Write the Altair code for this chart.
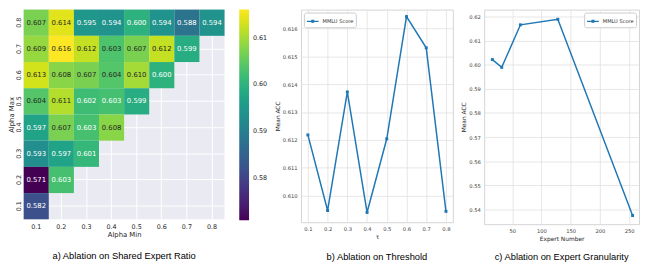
import altair as alt
import pandas as pd

# ---------------- data ----------------
alpha_labels = ["0.1", "0.2", "0.3", "0.4", "0.5", "0.6", "0.7", "0.8"]
row_08 = [0.607, 0.614, 0.595, 0.594, 0.600, 0.594, 0.588, 0.594]
row_07 = [0.609, 0.616, 0.612, 0.6034, 0.607, 0.612, 0.599]
row_06 = [0.613, 0.608, 0.607, 0.604, 0.610, 0.600]
row_05 = [0.604, 0.611, 0.602, 0.6027, 0.599]
row_04 = [0.597, 0.607, 0.6028, 0.608]
row_03 = [0.593, 0.597, 0.601]
row_02 = [0.571, 0.6028]
row_01 = [0.582]
heat_rows = {"0.8": row_08, "0.7": row_07, "0.6": row_06, "0.5": row_05,
             "0.4": row_04, "0.3": row_03, "0.2": row_02, "0.1": row_01}

tau = [0.1, 0.2, 0.3, 0.4, 0.5, 0.6, 0.7, 0.8]
tau_acc = [0.61218, 0.60947, 0.61372, 0.60940, 0.61204, 0.61642, 0.61530, 0.60944]

experts = [16, 32, 64, 128, 256]
expert_acc = [0.6021, 0.5989, 0.6165, 0.6188, 0.5375]

series_name = "MMLU Score"

heat_df = pd.DataFrame([
    {"amin": alpha_labels[i], "amax": amax, "value": v}
    for amax, vals in heat_rows.items() for i, v in enumerate(vals)
])
b_df = pd.DataFrame({"tau": tau, "acc": tau_acc, "series": series_name})
c_df = pd.DataFrame({"n": experts, "acc": expert_acc, "series": series_name})

FONT = "DejaVu Sans"
CAP_FONT = "Liberation Sans"
BLUE = "#1f77b4"
TXT = "#262626"

def caption(text, offset):
    return alt.TitleParams(text=text, orient="bottom", font=CAP_FONT, fontSize=9.5,
                           fontWeight="normal", color="black", anchor="middle",
                           frame="group", offset=offset)

# ---------------- a) heatmap ----------------
hx = alt.X("amin:O", scale=alt.Scale(domain=alpha_labels, paddingInner=0, paddingOuter=0),
           axis=alt.Axis(title="Alpha Min", labelAngle=0, domain=False, ticks=False,
                         grid=True, gridColor="white", gridWidth=1, zindex=0,
                         labelFont=FONT, labelFontSize=6.5, labelColor=TXT, labelPadding=4,
                         titleFont=FONT, titleFontSize=7, titleFontWeight="normal",
                         titleColor=TXT, titlePadding=1))
hy = alt.Y("amax:O", scale=alt.Scale(domain=alpha_labels[::-1], paddingInner=0, paddingOuter=0),
           axis=alt.Axis(title="Alpha Max", labelAngle=270, domain=False, ticks=False,
                         grid=True, gridColor="white", gridWidth=1, zindex=0,
                         labelFont=FONT, labelFontSize=6.5, labelColor=TXT, labelPadding=2,
                         titleFont=FONT, titleFontSize=7, titleFontWeight="normal",
                         titleColor=TXT, titlePadding=1))

rects = alt.Chart(heat_df).mark_rect().encode(
    x=hx, y=hy,
    color=alt.Color("value:Q",
                    scale=alt.Scale(scheme="viridis", domain=[0.571, 0.616]),
                    legend=alt.Legend(title=None, orient="right", direction="vertical",
                                      gradientLength=215, gradientThickness=10, offset=15,
                                      gradientStrokeWidth=0,
                                      values=[0.58, 0.59, 0.60, 0.61], format=".2f",
                                      labelExpr="datum.label + '\u00a0\u00a0'",
                                      labelFont=FONT, labelFontSize=6.5, labelColor=TXT,
                                      labelOffset=4)),
)
labels = alt.Chart(heat_df).mark_text(font=FONT, fontSize=7).encode(
    x=hx, y=hy,
    text=alt.Text("value:Q", format=".3f"),
    color=alt.condition("datum.value >= 0.603", alt.value(TXT), alt.value("white")),
)
heat = alt.layer(rects, labels).properties(
    width=205, height=214,
    view=alt.ViewBackground(fill="#EAEAF2", stroke=None),
    title=caption("a) Ablation on Shared Expert Ratio", 14),
)

# ---------------- shared line style ----------------
LEG_SYMBOL = "M-1,0L1,0M-0.13,-0.13L0.13,-0.13L0.13,0.13L-0.13,0.13Z"

def line_axis(title, values, fmt):
    return alt.Axis(title=title, values=values, format=fmt, domain=False, ticks=False,
                    grid=True, gridColor="#e0e0e0", gridWidth=0.8,
                    labelFont=FONT, labelFontSize=5.3, labelColor="#444444", labelPadding=4,
                    titleFont=FONT, titleFontSize=6, titleFontWeight="normal",
                    titleColor=TXT, titlePadding=2)

def legend(orient):
    return alt.Legend(title=None, orient=orient, symbolType=LEG_SYMBOL, symbolSize=144,
                      symbolStrokeWidth=1.5, symbolFillColor=BLUE, symbolStrokeColor=BLUE,
                      labelFont=FONT, labelFontSize=5.2, labelColor="#333333", labelOffset=3,
                      padding=2, offset=3, strokeColor="#cccccc", fillColor="white",
                      cornerRadius=2)

b = alt.Chart(b_df).mark_line(
    strokeWidth=1.5,
    point=alt.OverlayMarkDef(filled=True, size=9, shape="square"),
).encode(
    x=alt.X("tau:Q", scale=alt.Scale(domain=[0.065, 0.835], nice=False, zero=False),
            axis=line_axis("τ", tau, ".1f")),
    y=alt.Y("acc:Q", scale=alt.Scale(domain=[0.60905, 0.61667], nice=False, zero=False),
            axis=line_axis("Mean ACC", [0.610, 0.611, 0.612, 0.613, 0.614, 0.615, 0.616], ".3f")),
    color=alt.Color("series:N", scale=alt.Scale(range=[BLUE]), legend=legend("top-left")),
).properties(
    width=155, height=217,
    view=alt.ViewBackground(fill="white", stroke="#d4d4d4"),
    title=caption("b) Ablation on Threshold", 13),
)

c = alt.Chart(c_df).mark_line(
    strokeWidth=1.5,
    point=alt.OverlayMarkDef(filled=True, size=9, shape="square"),
).encode(
    x=alt.X("n:Q", scale=alt.Scale(domain=[2, 267], nice=False, zero=False),
            axis=line_axis("Expert Number", [50, 100, 150, 200, 250], "d")),
    y=alt.Y("acc:Q", scale=alt.Scale(domain=[0.5339, 0.6228], nice=False, zero=False),
            axis=line_axis("Mean ACC", [0.54, 0.55, 0.56, 0.57, 0.58, 0.59, 0.60, 0.61, 0.62], ".2f")),
    color=alt.Color("series:N", scale=alt.Scale(range=[BLUE]), legend=legend("top-right")),
).properties(
    width=158, height=219,
    view=alt.ViewBackground(fill="white", stroke="#d4d4d4"),
    title=caption("c) Ablation on Expert Granularity", 11),
)

chart = alt.hconcat(heat, b, c, spacing=6).resolve_scale(
    color="independent", x="independent", y="independent"
).resolve_legend(color="independent").properties(
    padding={"left": 0, "top": -2, "right": 0, "bottom": 0},
    background="white",
)

chart.save("out.html", embed_options={"renderer": "svg", "actions": False})
